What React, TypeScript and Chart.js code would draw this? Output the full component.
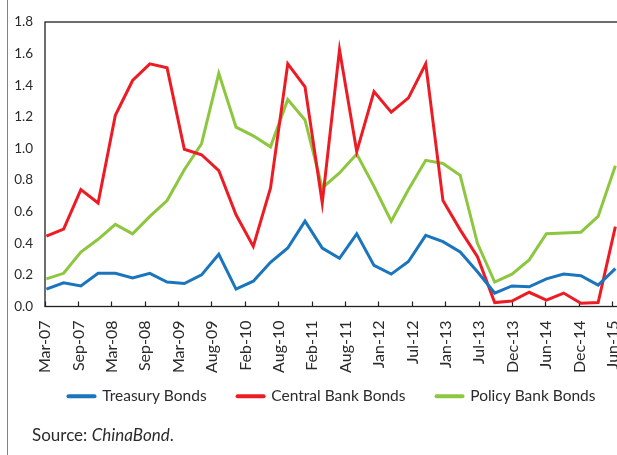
import React, { useEffect, useRef } from "react";
import { Chart, registerables } from "chart.js";

Chart.register(...registerables);

// Quarterly observations, Mar-07 .. Jun-15
const PERIODS = [
  "Mar-07", "Jun-07", "Sep-07", "Dec-07",
  "Mar-08", "Jun-08", "Sep-08", "Dec-08",
  "Mar-09", "Jun-09", "Sep-09", "Dec-09",
  "Mar-10", "Jun-10", "Sep-10", "Dec-10",
  "Mar-11", "Jun-11", "Sep-11", "Dec-11",
  "Mar-12", "Jun-12", "Sep-12", "Dec-12",
  "Mar-13", "Jun-13", "Sep-13", "Dec-13",
  "Mar-14", "Jun-14", "Sep-14", "Dec-14",
  "Mar-15", "Jun-15",
];

const TREASURY = [
  0.11, 0.15, 0.13, 0.21, 0.21, 0.18, 0.21, 0.155, 0.145, 0.2, 0.33, 0.11,
  0.16, 0.28, 0.37, 0.54, 0.37, 0.305, 0.46, 0.26, 0.205, 0.285, 0.45, 0.41,
  0.345, 0.22, 0.085, 0.13, 0.125, 0.175, 0.205, 0.195, 0.135, 0.24,
];

const CENTRAL = [
  0.445, 0.49, 0.74, 0.655, 1.21, 1.43, 1.535, 1.51, 0.995, 0.96, 0.86, 0.58,
  0.38, 0.75, 1.535, 1.39, 0.655, 1.625, 0.98, 1.36, 1.23, 1.32, 1.535, 0.67,
  0.485, 0.315, 0.025, 0.035, 0.09, 0.04, 0.085, 0.02, 0.025, 0.505,
];

const POLICY = [
  0.175, 0.21, 0.345, 0.425, 0.52, 0.46, 0.57, 0.67, 0.865, 1.03, 1.475, 1.135,
  1.08, 1.01, 1.31, 1.18, 0.75, 0.845, 0.965, 0.76, 0.54, 0.74, 0.925, 0.905,
  0.83, 0.4, 0.155, 0.205, 0.295, 0.46, 0.465, 0.47, 0.57, 0.89,
];

const TICK_LABELS = [
  "Mar-07", "Sep-07", "Mar-08", "Sep-08", "Mar-09", "Aug-09", "Feb-10",
  "Aug-10", "Feb-11", "Aug-11", "Jan-12", "Jul-12", "Jan-13", "Jul-13",
  "Dec-13", "Jun-14", "Dec-14", "Jun-15",
];

const SERIES_NAMES = ["Treasury Bonds", "Central Bank Bonds", "Policy Bank Bonds"];
const SERIES_COLORS = ["#1a75bc", "#ed1c24", "#8dc63f"];

// x axis in quarter units; ticks fall roughly every 177 days
const X_MIN = -0.08;
const X_MAX = 33.5;
const TICK_STEP = 1.937;

const Y_MIN = 0;
const Y_MAX = 1.8;
const Y_STEP = 0.2;

const FONT = "Lato, 'Open Sans', sans-serif";
const TEXT = "#2b2b2b";
const AXIS = "#231f20";
const LEGEND_CENTER_X = 332;

const boxPlugin = {
  id: "plotBox",
  afterLayout(chart: any) {
    const lg = chart.legend;
    if (lg) {
      const dx = LEGEND_CENTER_X - (lg.left + lg.right) / 2;
      lg.left += dx;
      lg.right += dx;
    }
  },
  beforeDatasetsDraw(chart: any) {
    const { ctx, chartArea } = chart;
    ctx.save();
    ctx.strokeStyle = AXIS;
    ctx.lineWidth = 1.3;
    ctx.strokeRect(chartArea.left, chartArea.top, chartArea.right - chartArea.left, chartArea.bottom - chartArea.top);
    ctx.restore();
  },
};

export default function App() {
  const canvasRef = useRef<HTMLCanvasElement | null>(null);

  useEffect(() => {
    if (!canvasRef.current) return;
    const series = [TREASURY, CENTRAL, POLICY];
    const chart = new Chart(canvasRef.current, {
      type: "line",
      data: {
        datasets: series.map((values, s) => ({
          label: SERIES_NAMES[s],
          data: values.map((y, i) => ({ x: i, y })),
          borderColor: SERIES_COLORS[s],
          backgroundColor: SERIES_COLORS[s],
          borderWidth: 3,
          pointRadius: 0,
          tension: 0,
          fill: false,
        })),
      },
      options: {
        animation: false,
        responsive: true,
        maintainAspectRatio: false,
        layout: { padding: { top: 22, left: 0, right: 39, bottom: 41 } },
        plugins: {
          tooltip: { enabled: false },
          legend: {
            position: "bottom",
            labels: {
              usePointStyle: true,
              pointStyleWidth: 26,
              padding: 31,
              color: TEXT,
              font: { family: FONT, size: 15.5 },
              generateLabels(chart: any) {
                const items = Chart.defaults.plugins.legend.labels.generateLabels(chart);
                return items.map((it: any) => ({
                  ...it,
                  pointStyle: "line",
                  lineWidth: 4,
                  lineCap: "round",
                  strokeStyle: SERIES_COLORS[it.datasetIndex],
                }));
              },
            },
          },
        },
        scales: {
          x: {
            type: "linear",
            min: X_MIN,
            max: X_MAX,
            afterBuildTicks(scale: any) {
              scale.ticks = TICK_LABELS.map((_, k) => ({ value: X_MIN + k * TICK_STEP }));
            },
            afterFit(scale: any) {
              scale.height = 51;
              // let the rotated labels run past the scale box without clipping
              scale._computeLabelArea = () => undefined;
            },
            grid: {
              drawOnChartArea: false,
              drawTicks: true,
              tickLength: -5,
              tickColor: AXIS,
              tickWidth: 1.2,
            },
            border: { display: false },
            ticks: {
              autoSkip: false,
              minRotation: 90,
              maxRotation: 90,
              padding: 19,
              color: TEXT,
              font: { family: FONT, size: 16 },
              callback: (_v: any, i: number) => TICK_LABELS[i],
            },
          },
          y: {
            min: Y_MIN,
            max: Y_MAX,
            afterFit(scale: any) {
              scale.width = 45;
            },
            grid: { drawOnChartArea: false, drawTicks: false },
            border: { display: false },
            ticks: {
              stepSize: Y_STEP,
              padding: 12,
              color: TEXT,
              font: { family: FONT, size: 13.5 },
              callback: (v: any) => Number(v).toFixed(1),
            },
          },
        },
      },
      plugins: [boxPlugin],
    });
    return () => chart.destroy();
  }, []);

  return (
    <div
      style={{
        position: "fixed",
        left: 0,
        top: 0,
        width: 617,
        height: 455,
        overflow: "hidden",
        background: "#ffffff",
      }}
    >
      <div style={{ position: "absolute", left: 0, top: 0, width: 663, height: 455 }}>
        <canvas ref={canvasRef} />
      </div>
      <div
        style={{
          position: "absolute",
          left: 7,
          top: 0,
          width: 1,
          height: 455,
          background: "#3a98d6",
        }}
      />
      <div
        style={{
          position: "absolute",
          left: 32,
          top: 424,
          fontFamily: FONT,
          fontSize: 17,
          color: TEXT,
          whiteSpace: "nowrap",
        }}
      >
        Source: <i>ChinaBond</i>.
      </div>
    </div>
  );
}
